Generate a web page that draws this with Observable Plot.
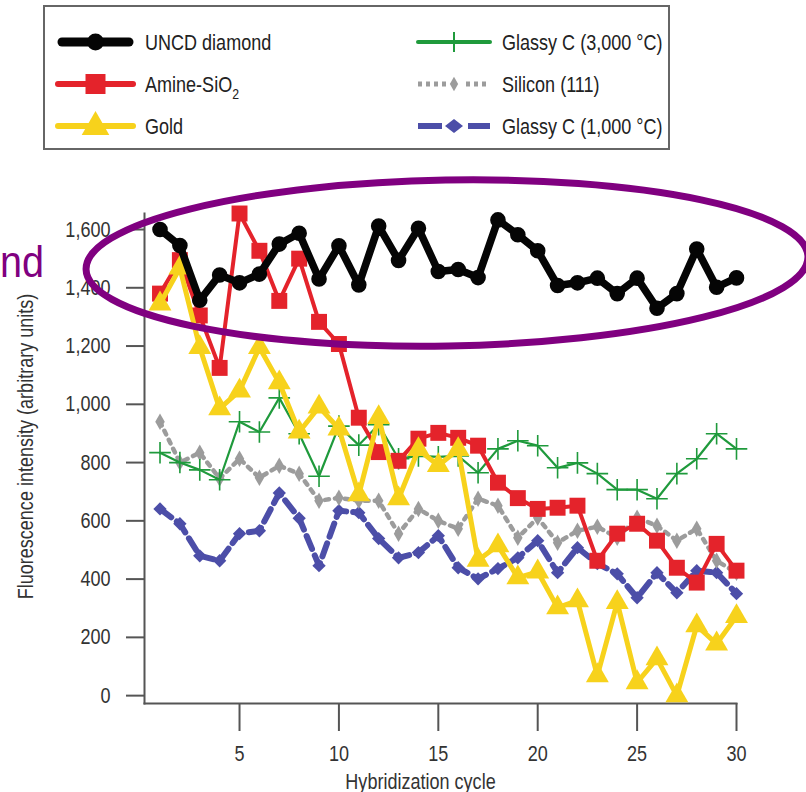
<!DOCTYPE html>
<html><head><meta charset="utf-8">
<script src="https://cdn.jsdelivr.net/npm/d3@7"></script>
<script src="https://cdn.jsdelivr.net/npm/@observablehq/plot@0.6"></script>
<style>
body{margin:0;background:#fff;}
#wrap{position:relative;width:806px;height:792px;overflow:hidden;background:#fff;
  font-family:"Liberation Sans",Arial,sans-serif;}
#legend{height:160px;position:relative;}
#legend svg{position:absolute;left:0;top:0;}
#chart svg{display:block;}
#overlay{position:absolute;left:0;top:0;pointer-events:none;}
</style></head>
<body><div id="wrap"><div id="legend"></div><div id="chart"></div></div>
<script>
// ---- data ----
const cycles = [1,2,3,4,5,6,7,8,9,10,11,12,13,14,15,16,17,18,19,20,21,22,23,24,25,26,27,28,29,30];
const uncd = [1600,1545,1357,1444,1417,1447,1550,1587,1430,1544,1410,1612,1494,1604,1456,1463,1435,1633,1582,1527,1408,1417,1433,1380,1433,1330,1380,1533,1402,1434];
const amine = [1380,1495,1305,1125,1655,1527,1355,1500,1283,1207,954,836,806,882,902,885,858,731,678,641,645,652,463,556,590,532,439,388,521,429];
const gold = [1345,1468,1195,985,1046,1195,1074,905,991,916,690,955,676,845,790,845,465,515,405,425,302,326,69,320,45,127,0,240,178,272];
const glassy3000 = [834,800,775,741,940,905,1022,899,753,925,860,930,813,823,820,823,765,847,875,858,782,799,762,707,707,676,762,813,899,847];
const silicon = [940,800,834,745,813,748,789,762,669,679,669,669,556,641,600,573,676,652,542,611,525,566,580,542,611,583,532,573,463,422];
const glassy1000 = [641,590,480,463,556,566,696,609,446,635,628,539,473,491,549,439,401,436,473,532,422,508,453,418,336,422,353,429,422,350];
const xTicks = [5,10,15,20,25,30];
const yTicks = [0,200,400,600,800,1000,1200,1400,1600];
const seriesNames = ["UNCD diamond","Amine-SiO2","Gold","Glassy C (3,000 °C)","Silicon (111)","Glassy C (1,000 °C)"];

const FONT = '"Liberation Sans",Arial,sans-serif';
const NARROW = 0.82; // horizontal condensing of text (reference uses a condensed face)
const styles = {
  "UNCD diamond":        {values: uncd,       color:"#050505", width:7.5, dash:null,  symbol:"circle",   r:7.8},
  "Amine-SiO2":          {values: amine,      color:"#e4232b", width:4, dash:null,  symbol:"square",   r:9},
  "Gold":                {values: gold,       color:"#f7d21c", width:5, dash:null,  symbol:"triangle", r:8.5},
  "Glassy C (3,000 °C)": {values: glassy3000, color:"#1f9a3c", width:2.2, dash:null,  symbol:"plus",   r:7},
  "Silicon (111)":       {values: silicon,    color:"#9c9c9c", width:4.5, dash:"4,6", symbol:"diamond",  r:5},
  "Glassy C (1,000 °C)": {values: glassy1000, color:"#4c4ea8", width:6, dash:"14,7",symbol:"diamond2", r:6}
};
const rows = name => cycles.map((c,i)=>({cycle:c, value:styles[name].values[i], series:name}));

const drawOrder = ["Glassy C (1,000 °C)","Silicon (111)","Glassy C (3,000 °C)","Amine-SiO2","Gold","UNCD diamond"];
const seriesMarks = drawOrder.flatMap(name=>{
  const s = styles[name], data = rows(name);
  const dot = s.symbol === "plus"
    ? Plot.dot(data,{x:"cycle",y:"value",symbol:()=>"plus",r:s.r,stroke:s.color,strokeWidth:1.6})
    : Plot.dot(data,{x:"cycle",y:"value",symbol:()=>s.symbol,r:s.r,fill:s.color,stroke:"none"});
  return [
    Plot.line(data,{x:"cycle",y:"value",stroke:s.color,strokeWidth:s.width,strokeDasharray:s.dash,strokeLinejoin:"round",curve:"linear"}),
    dot
  ];
});

const chart = Plot.plot({
  width:806, height:632,
  marginLeft:144, marginRight:70, marginTop:53, marginBottom:89,
  x:{domain:[0.22,30]},
  y:{domain:[-27,1655]},
  symbol:{type:"identity"},
  style:{fontFamily:FONT, fontSize:"22px", color:"#333", background:"white", overflow:"visible"},
  marks:[
    Plot.axisY({ticks:yTicks, tickFormat:d3.format(","), tickSize:18, tickPadding:16, label:null, stroke:"#555", strokeWidth:2}),
    Plot.axisX({ticks:xTicks, tickSize:28, tickPadding:14, label:null, stroke:"#555", strokeWidth:2}),
    Plot.frame({anchor:"left", stroke:"#555", strokeWidth:2}),
    Plot.frame({anchor:"bottom", stroke:"#555", strokeWidth:2}),
    Plot.text(["Hybridization cycle"],{frameAnchor:"bottom", textAnchor:"middle", dx:-20, dy:85, fill:"#333", fontSize:22}),
    Plot.text(["Fluorescence intensity (arbitrary units)"],{frameAnchor:"left", textAnchor:"middle", rotate:-90, dx:-119, dy:-12, fill:"#333", fontSize:22}),
    ...seriesMarks
  ]
});
document.getElementById("chart").appendChild(chart);

// condense every text horizontally around its own anchor point
function condense(root, k){
  d3.select(root).selectAll("text").each(function(){
    const xa = this.getAttribute("x");
    if (xa !== null && /^-?[\d.]+$/.test(xa.trim())) this.setAttribute("x", (+xa)/k);
    const t = this.getAttribute("transform") || "";
    this.setAttribute("transform", `${t} scale(${k},1)`);
  });
}
condense(chart, NARROW);

// ---- legend ----
const lg = d3.select("#legend").append("svg").attr("width",806).attr("height",160);
lg.append("rect").attr("x",44).attr("y",6).attr("width",625).attr("height",143)
  .attr("fill","white").attr("stroke","#666").attr("stroke-width",2);
const legendPos = [
  {name:"UNCD diamond", x0:58, x1:133, y:42},
  {name:"Amine-SiO2", x0:58, x1:133, y:84},
  {name:"Gold", x0:58, x1:133, y:126},
  {name:"Glassy C (3,000 °C)", x0:418, x1:490, y:42},
  {name:"Silicon (111)", x0:418, x1:490, y:84},
  {name:"Glassy C (1,000 °C)", x0:418, x1:490, y:126}
];
const sym = {circle:d3.symbolCircle, square:d3.symbolSquare, triangle:d3.symbolTriangle, diamond:d3.symbolDiamond, diamond2:d3.symbolDiamond2};
legendPos.forEach(p=>{
  const s = styles[p.name], mx=(p.x0+p.x1)/2;
  const g = lg.append("g");
  if (p.name==="UNCD diamond") {
    g.append("line").attr("x1",p.x0+4).attr("x2",p.x1-4).attr("y1",p.y).attr("y2",p.y).attr("stroke",s.color).attr("stroke-width",9).attr("stroke-linecap","round");
    g.append("circle").attr("cx",mx).attr("cy",p.y).attr("r",8.5).attr("fill",s.color);
  } else if (p.name==="Glassy C (3,000 °C)") {
    g.append("line").attr("x1",p.x0).attr("x2",p.x1).attr("y1",p.y).attr("y2",p.y).attr("stroke",s.color).attr("stroke-width",4).attr("stroke-linecap","round");
    g.append("line").attr("x1",mx).attr("x2",mx).attr("y1",p.y-10).attr("y2",p.y+10).attr("stroke",s.color).attr("stroke-width",2);
  } else if (p.name==="Silicon (111)") {
    g.append("line").attr("x1",p.x0).attr("x2",p.x1).attr("y1",p.y).attr("y2",p.y).attr("stroke",s.color).attr("stroke-width",5).attr("stroke-dasharray","4,4");
    g.append("rect").attr("x",mx-8).attr("y",p.y-6).attr("width",16).attr("height",12).attr("fill","white");
    g.append("path").attr("d",d3.symbol(sym.diamond, 60)()).attr("transform",`translate(${mx},${p.y})`).attr("fill",s.color);
  } else if (p.name==="Glassy C (1,000 °C)") {
    g.append("line").attr("x1",p.x0).attr("x2",p.x0+24).attr("y1",p.y).attr("y2",p.y).attr("stroke",s.color).attr("stroke-width",6);
    g.append("line").attr("x1",p.x1-22).attr("x2",p.x1).attr("y1",p.y).attr("y2",p.y).attr("stroke",s.color).attr("stroke-width",6);
    g.append("path").attr("d","M-9,0L0,-7L9,0L0,7Z").attr("transform",`translate(${mx},${p.y})`).attr("fill",s.color);
  } else {
    g.append("line").attr("x1",p.x0).attr("x2",p.x1).attr("y1",p.y).attr("y2",p.y).attr("stroke",s.color).attr("stroke-width",6).attr("stroke-linecap","round");
    const size = p.name==="Gold" ? 330 : 400;
    g.append("path").attr("d",d3.symbol(sym[s.symbol], size)()).attr("transform",`translate(${mx},${p.y+(p.name==="Gold"?1:0)})`).attr("fill",s.color);
  }
  const t = lg.append("text").attr("x",p.x1+12).attr("y",p.y).attr("dy","0.36em")
    .attr("font-family",FONT).attr("font-size",22).attr("fill","#222");
  if (p.name==="Amine-SiO2") {
    t.append("tspan").text("Amine-SiO");
    t.append("tspan").attr("font-size",15).attr("dy",7).text("2");
  } else t.text(p.name);
});
condense(lg.node(), NARROW);

// ---- annotation overlay (purple ellipse + clipped word) ----
const ov = d3.select("#wrap").append("svg").attr("id","overlay").attr("width",806).attr("height",792);
ov.append("ellipse").attr("cx",447).attr("cy",263).attr("rx",361).attr("ry",83)
  .attr("transform","rotate(-1 447 263)")
  .attr("fill","none").attr("stroke","#800080").attr("stroke-width",7);
ov.append("text").attr("text-anchor","end")
  .attr("transform","translate(44,277) scale(0.88,1)")
  .attr("font-family",FONT).attr("font-size",45).attr("fill","#800080").text("nd");
</script></body></html>
